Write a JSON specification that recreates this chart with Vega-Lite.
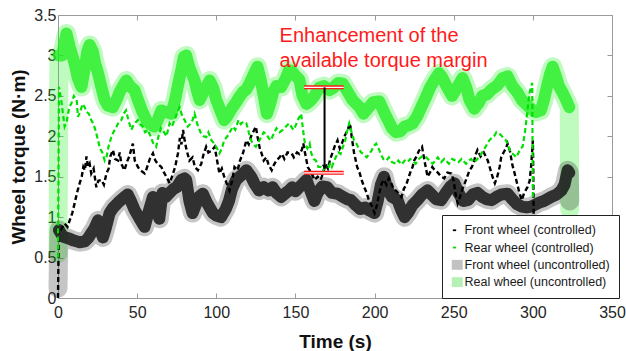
{
  "$schema": "https://vega.github.io/schema/vega-lite/v6.json",
  "width": 554,
  "height": 283,
  "autosize": {"type": "none"},
  "padding": {"left": 58, "top": 15, "right": 14, "bottom": 53},
  "background": "white",
  "config": {
    "font": "Liberation Sans",
    "view": {"stroke": null}
  },
  "datasets": {
    "keys": [{"s":"Front wheel (controlled)"},{"s":"Rear wheel (controlled)"},{"s":"Front wheel (uncontrolled)"},{"s":"Real wheel (uncontrolled)"}],
    "fc": [
      {"t":0,"y":0},{"t":0.3,"y":0.5},{"t":0.6,"y":0.87},{"t":2,"y":0.85},{"t":4.2,"y":0.92},{"t":6,"y":0.88},{"t":7.4,"y":0.96},{"t":9,"y":1.05},{"t":10.5,"y":1.17},{"t":12,"y":1.3},{"t":13.7,"y":1.42},{"t":15,"y":1.5},{"t":16,"y":1.62},{"t":17,"y":1.58},{"t":18,"y":1.75},{"t":19,"y":1.62},{"t":20,"y":1.66},{"t":21,"y":1.54},{"t":22.5,"y":1.6},{"t":24.2,"y":1.37},{"t":25.5,"y":1.45},{"t":27.4,"y":1.46},{"t":29,"y":1.4},{"t":30.6,"y":1.54},{"t":32,"y":1.6},{"t":33,"y":1.75},{"t":34.7,"y":1.83},{"t":36,"y":1.72},{"t":37.9,"y":1.7},{"t":39,"y":1.8},{"t":40,"y":1.66},{"t":42,"y":1.58},{"t":43.5,"y":1.68},{"t":45,"y":1.75},{"t":47.3,"y":1.91},{"t":48.5,"y":1.7},{"t":50.5,"y":1.62},{"t":52,"y":1.58},{"t":54.7,"y":1.54},{"t":56,"y":1.6},{"t":58,"y":1.72},{"t":60,"y":1.79},{"t":61.5,"y":1.7},{"t":63,"y":1.66},{"t":65.3,"y":1.62},{"t":67,"y":1.55},{"t":69,"y":1.48},{"t":70.5,"y":1.42},{"t":72,"y":1.5},{"t":74,"y":1.62},{"t":75.8,"y":1.79},{"t":77,"y":1.98},{"t":78,"y":1.9},{"t":79,"y":2.08},{"t":80,"y":1.95},{"t":81,"y":1.85},{"t":83,"y":1.7},{"t":85,"y":1.74},{"t":86.5,"y":1.62},{"t":88.4,"y":1.58},{"t":90.5,"y":1.66},{"t":92,"y":1.78},{"t":93.6,"y":1.87},{"t":95,"y":1.8},{"t":97,"y":1.82},{"t":99,"y":1.87},{"t":100.5,"y":1.7},{"t":102,"y":1.54},{"t":103.5,"y":1.6},{"t":105,"y":1.5},{"t":106.5,"y":1.42},{"t":108.4,"y":1.33},{"t":110,"y":1.45},{"t":111.5,"y":1.62},{"t":113.5,"y":1.58},{"t":115,"y":1.7},{"t":117,"y":1.8},{"t":119,"y":1.95},{"t":120.5,"y":1.9},{"t":122,"y":2.0},{"t":124,"y":2.08},{"t":125,"y":2.12},{"t":126,"y":2.0},{"t":127.5,"y":1.85},{"t":128.6,"y":1.79},{"t":130,"y":1.7},{"t":131.6,"y":1.74},{"t":133,"y":1.65},{"t":135,"y":1.58},{"t":136.5,"y":1.65},{"t":138,"y":1.7},{"t":140,"y":1.74},{"t":141.5,"y":1.78},{"t":143,"y":1.72},{"t":145,"y":1.8},{"t":147.6,"y":1.79},{"t":149,"y":1.74},{"t":151,"y":1.8},{"t":152.5,"y":1.78},{"t":154,"y":1.83},{"t":155,"y":1.91},{"t":156,"y":1.8},{"t":157.8,"y":1.62},{"t":160,"y":1.55},{"t":162,"y":1.46},{"t":164,"y":1.5},{"t":166,"y":1.46},{"t":167.5,"y":1.55},{"t":169,"y":1.65},{"t":170.5,"y":1.6},{"t":172,"y":1.72},{"t":173.5,"y":1.8},{"t":174.7,"y":1.87},{"t":176.6,"y":1.95},{"t":178,"y":1.85},{"t":179.5,"y":1.92},{"t":181,"y":2.0},{"t":183,"y":2.08},{"t":184.5,"y":2.16},{"t":185.5,"y":2.0},{"t":187,"y":1.8},{"t":189,"y":1.62},{"t":190.5,"y":1.55},{"t":192,"y":1.45},{"t":193.5,"y":1.37},{"t":195,"y":1.3},{"t":196.5,"y":1.2},{"t":198,"y":1.15},{"t":200,"y":1.05},{"t":201.5,"y":1.15},{"t":203,"y":1.3},{"t":204.5,"y":1.42},{"t":206,"y":1.46},{"t":207.5,"y":1.4},{"t":209,"y":1.48},{"t":210.6,"y":1.42},{"t":212,"y":1.35},{"t":214,"y":1.32},{"t":215.5,"y":1.28},{"t":217,"y":1.25},{"t":218.5,"y":1.35},{"t":220,"y":1.4},{"t":221,"y":1.46},{"t":222.5,"y":1.55},{"t":224,"y":1.62},{"t":225,"y":1.7},{"t":226.5,"y":1.75},{"t":228,"y":1.82},{"t":230,"y":1.87},{"t":231.5,"y":1.7},{"t":233.5,"y":1.5},{"t":235,"y":1.55},{"t":236.5,"y":1.62},{"t":238,"y":1.58},{"t":240,"y":1.55},{"t":242,"y":1.5},{"t":244,"y":1.48},{"t":246,"y":1.55},{"t":248.5,"y":1.54},{"t":250,"y":1.45},{"t":251,"y":1.3},{"t":252.5,"y":1.17},{"t":254,"y":1.25},{"t":255.5,"y":1.35},{"t":257,"y":1.42},{"t":258.5,"y":1.5},{"t":260,"y":1.58},{"t":261.5,"y":1.62},{"t":263,"y":1.7},{"t":264,"y":1.78},{"t":265,"y":1.83},{"t":267,"y":1.75},{"t":269,"y":1.8},{"t":271.5,"y":1.7},{"t":273,"y":1.6},{"t":274.5,"y":1.5},{"t":276,"y":1.42},{"t":277.5,"y":1.5},{"t":279,"y":1.62},{"t":280,"y":1.74},{"t":281.5,"y":1.8},{"t":283,"y":1.85},{"t":284,"y":1.91},{"t":285.5,"y":1.82},{"t":287,"y":1.65},{"t":288.5,"y":1.54},{"t":290,"y":1.42},{"t":291.5,"y":1.3},{"t":293,"y":1.21},{"t":294.5,"y":1.3},{"t":296.6,"y":1.37},{"t":298,"y":1.45},{"t":299,"y":1.65},{"t":300,"y":1.95},{"t":300.3,"y":1.5},{"t":300.6,"y":0.8},{"t":301,"y":0}
    ],
    "rc": [
      {"t":0,"y":0.5},{"t":0.3,"y":1.5},{"t":0.6,"y":2.61},{"t":2,"y":2.45},{"t":3,"y":2.3},{"t":4.2,"y":2.12},{"t":5.5,"y":2.18},{"t":7,"y":2.35},{"t":8.5,"y":2.41},{"t":10,"y":2.5},{"t":11.8,"y":2.45},{"t":12.6,"y":2.24},{"t":14,"y":2.3},{"t":15.5,"y":2.4},{"t":16.9,"y":2.36},{"t":18,"y":2.3},{"t":19.5,"y":2.28},{"t":21,"y":2.2},{"t":22.5,"y":2.15},{"t":24,"y":2.05},{"t":25.3,"y":1.95},{"t":26.5,"y":1.85},{"t":28,"y":1.8},{"t":29.5,"y":1.7},{"t":30.6,"y":1.74},{"t":32,"y":1.88},{"t":33.7,"y":1.99},{"t":35,"y":2.05},{"t":37,"y":2.12},{"t":38.5,"y":2.18},{"t":40,"y":2.2},{"t":41.5,"y":2.28},{"t":43,"y":2.32},{"t":44.5,"y":2.2},{"t":46.3,"y":2.08},{"t":48,"y":2.15},{"t":50.5,"y":2.2},{"t":52,"y":2.15},{"t":53.6,"y":2.12},{"t":55,"y":2.05},{"t":56.8,"y":2.08},{"t":58.5,"y":2.0},{"t":60,"y":1.92},{"t":62,"y":1.87},{"t":63.5,"y":2.0},{"t":65,"y":2.1},{"t":67,"y":2.05},{"t":68.5,"y":2.0},{"t":70.5,"y":2.16},{"t":72,"y":2.12},{"t":74,"y":2.22},{"t":75.5,"y":2.3},{"t":76.8,"y":2.36},{"t":78.5,"y":2.25},{"t":80,"y":2.2},{"t":82,"y":2.12},{"t":83.5,"y":2.15},{"t":85,"y":2.2},{"t":86.3,"y":2.28},{"t":88,"y":2.15},{"t":90,"y":2.05},{"t":92,"y":2.0},{"t":93.6,"y":1.99},{"t":95,"y":2.05},{"t":97,"y":1.95},{"t":99,"y":1.9},{"t":100.5,"y":1.85},{"t":102,"y":1.79},{"t":103.5,"y":1.85},{"t":105,"y":1.95},{"t":107,"y":2.0},{"t":108.5,"y":2.05},{"t":110.5,"y":2.12},{"t":112,"y":2.08},{"t":114,"y":2.2},{"t":115.5,"y":2.15},{"t":117,"y":2.18},{"t":119,"y":2.16},{"t":120.5,"y":2.05},{"t":122,"y":1.95},{"t":123.5,"y":1.9},{"t":125,"y":1.87},{"t":126.5,"y":1.92},{"t":128,"y":1.98},{"t":130,"y":2.05},{"t":131.6,"y":2.03},{"t":133,"y":1.98},{"t":134.5,"y":1.95},{"t":136,"y":2.02},{"t":138,"y":2.1},{"t":140,"y":2.05},{"t":142,"y":2.08},{"t":144,"y":2.12},{"t":146,"y":2.16},{"t":148,"y":2.1},{"t":149,"y":2.08},{"t":150.5,"y":2.15},{"t":152,"y":2.22},{"t":153.6,"y":2.28},{"t":155,"y":2.05},{"t":156,"y":1.91},{"t":157.5,"y":1.85},{"t":159,"y":1.91},{"t":160,"y":1.79},{"t":161.5,"y":1.72},{"t":163,"y":1.7},{"t":164.5,"y":1.62},{"t":166,"y":1.62},{"t":167.5,"y":1.58},{"t":169,"y":1.62},{"t":170.5,"y":1.6},{"t":172,"y":1.66},{"t":173,"y":1.62},{"t":174.5,"y":1.7},{"t":175.5,"y":1.74},{"t":177,"y":1.8},{"t":178.5,"y":1.78},{"t":180,"y":1.87},{"t":181.5,"y":1.95},{"t":182.5,"y":2.05},{"t":184,"y":2.16},{"t":185.5,"y":2.05},{"t":187,"y":1.95},{"t":188.5,"y":1.91},{"t":190,"y":1.85},{"t":191.5,"y":1.8},{"t":193,"y":1.78},{"t":195,"y":1.74},{"t":196.5,"y":1.78},{"t":198,"y":1.82},{"t":199.5,"y":1.88},{"t":201,"y":1.91},{"t":202.5,"y":1.85},{"t":204,"y":1.78},{"t":205.5,"y":1.72},{"t":207.5,"y":1.7},{"t":209,"y":1.74},{"t":211,"y":1.68},{"t":213.6,"y":1.66},{"t":215,"y":1.7},{"t":217,"y":1.65},{"t":219,"y":1.7},{"t":221,"y":1.68},{"t":222.5,"y":1.72},{"t":224,"y":1.7},{"t":226,"y":1.66},{"t":228,"y":1.72},{"t":230,"y":1.75},{"t":232.6,"y":1.74},{"t":234.5,"y":1.7},{"t":236.7,"y":1.66},{"t":238.5,"y":1.7},{"t":240,"y":1.74},{"t":242,"y":1.68},{"t":244,"y":1.72},{"t":245,"y":1.7},{"t":247,"y":1.66},{"t":249,"y":1.72},{"t":251,"y":1.7},{"t":253,"y":1.68},{"t":255,"y":1.72},{"t":257.8,"y":1.66},{"t":259.5,"y":1.7},{"t":261,"y":1.72},{"t":262.5,"y":1.68},{"t":264,"y":1.7},{"t":266,"y":1.74},{"t":268,"y":1.8},{"t":269.5,"y":1.85},{"t":271,"y":1.9},{"t":272.5,"y":1.95},{"t":274,"y":1.98},{"t":275.5,"y":2.0},{"t":277,"y":2.05},{"t":279,"y":2.03},{"t":280.5,"y":2.0},{"t":281.5,"y":1.98},{"t":283,"y":1.95},{"t":284.5,"y":1.88},{"t":286,"y":1.8},{"t":287.5,"y":1.78},{"t":289.6,"y":1.74},{"t":291,"y":1.8},{"t":292.5,"y":1.85},{"t":293.5,"y":1.87},{"t":295,"y":2.05},{"t":296.5,"y":2.3},{"t":297.8,"y":2.53},{"t":299,"y":2.62},{"t":299.6,"y":2.66},{"t":299.8,"y":1.9},{"t":300,"y":1.25}
    ],
    "fu": [
      {"t":0,"y":0.12},{"t":0.3,"y":0.5},{"t":0.6,"y":0.84},{"t":3,"y":0.76},{"t":6.3,"y":0.74},{"t":10,"y":0.71},{"t":13.7,"y":0.69},{"t":17,"y":0.7},{"t":19,"y":0.74},{"t":21,"y":0.8},{"t":23,"y":0.86},{"t":25.3,"y":0.96},{"t":26.5,"y":0.85},{"t":28.4,"y":0.75},{"t":30,"y":0.85},{"t":32.6,"y":1.05},{"t":35,"y":1.12},{"t":38,"y":1.18},{"t":42,"y":1.25},{"t":44,"y":1.28},{"t":46,"y":1.2},{"t":48.4,"y":1.09},{"t":51,"y":1.0},{"t":54.7,"y":0.88},{"t":57,"y":1.05},{"t":60,"y":1.25},{"t":62,"y":1.15},{"t":64,"y":0.98},{"t":66,"y":1.3},{"t":68,"y":1.25},{"t":70.5,"y":1.3},{"t":73,"y":1.35},{"t":75,"y":1.37},{"t":77.9,"y":1.46},{"t":80,"y":1.48},{"t":81,"y":1.46},{"t":83,"y":1.2},{"t":85,"y":1.05},{"t":87,"y":1.15},{"t":89,"y":1.25},{"t":91.5,"y":1.29},{"t":94,"y":1.18},{"t":97.8,"y":1.05},{"t":100,"y":1.02},{"t":103,"y":1.0},{"t":106,"y":1.1},{"t":108,"y":1.2},{"t":110,"y":1.35},{"t":112.5,"y":1.46},{"t":116,"y":1.52},{"t":119,"y":1.58},{"t":122,"y":1.5},{"t":124,"y":1.42},{"t":127,"y":1.33},{"t":130,"y":1.37},{"t":133,"y":1.33},{"t":135.6,"y":1.37},{"t":138,"y":1.3},{"t":141,"y":1.25},{"t":144,"y":1.3},{"t":146,"y":1.33},{"t":148,"y":1.37},{"t":150,"y":1.32},{"t":153,"y":1.38},{"t":157,"y":1.46},{"t":160,"y":1.3},{"t":162,"y":1.2},{"t":164,"y":1.3},{"t":167,"y":1.38},{"t":170,"y":1.37},{"t":173,"y":1.3},{"t":176.6,"y":1.29},{"t":180,"y":1.25},{"t":183,"y":1.22},{"t":185,"y":1.21},{"t":188,"y":1.15},{"t":191,"y":1.1},{"t":194,"y":1.12},{"t":197,"y":1.08},{"t":200,"y":1.05},{"t":202,"y":1.2},{"t":204,"y":1.4},{"t":206,"y":1.5},{"t":208,"y":1.35},{"t":211,"y":1.25},{"t":214.5,"y":1.21},{"t":217,"y":1.08},{"t":219,"y":1.0},{"t":221,"y":1.05},{"t":224,"y":1.15},{"t":227,"y":1.21},{"t":230,"y":1.28},{"t":233.5,"y":1.33},{"t":236,"y":1.28},{"t":239,"y":1.22},{"t":242,"y":1.21},{"t":245,"y":1.3},{"t":248,"y":1.38},{"t":250.5,"y":1.42},{"t":253,"y":1.3},{"t":256,"y":1.2},{"t":259,"y":1.21},{"t":262,"y":1.28},{"t":265,"y":1.3},{"t":268,"y":1.25},{"t":271,"y":1.22},{"t":274,"y":1.21},{"t":277,"y":1.25},{"t":280,"y":1.28},{"t":284,"y":1.29},{"t":287,"y":1.22},{"t":290,"y":1.16},{"t":293,"y":1.13},{"t":296,"y":1.12},{"t":299,"y":1.13},{"t":301,"y":1.15},{"t":304,"y":1.18},{"t":307,"y":1.2},{"t":311.5,"y":1.25},{"t":315,"y":1.28},{"t":318,"y":1.33},{"t":320,"y":1.4},{"t":322,"y":1.58},{"t":323,"y":1.55},{"t":323.3,"y":1.2}
    ],
    "ru": [
      {"t":0,"y":0.55},{"t":0.3,"y":1.8},{"t":0.6,"y":3.0},{"t":2.5,"y":3.0},{"t":5.3,"y":3.27},{"t":7.5,"y":3.1},{"t":10.5,"y":2.9},{"t":12.5,"y":2.72},{"t":14.8,"y":2.61},{"t":17,"y":2.85},{"t":18.5,"y":3.05},{"t":20,"y":3.13},{"t":22,"y":3.05},{"t":23.5,"y":2.9},{"t":25.3,"y":2.78},{"t":27.5,"y":2.6},{"t":29.5,"y":2.45},{"t":31.5,"y":2.38},{"t":34.7,"y":2.36},{"t":37,"y":2.45},{"t":39,"y":2.55},{"t":41,"y":2.62},{"t":43.2,"y":2.69},{"t":45.5,"y":2.62},{"t":48.4,"y":2.57},{"t":50.5,"y":2.45},{"t":53,"y":2.32},{"t":55.8,"y":2.2},{"t":58,"y":2.15},{"t":61,"y":2.12},{"t":63,"y":2.2},{"t":65.3,"y":2.32},{"t":68,"y":2.3},{"t":71.6,"y":2.28},{"t":74,"y":2.45},{"t":76,"y":2.65},{"t":77.9,"y":2.82},{"t":79.5,"y":2.98},{"t":81,"y":3.0},{"t":83,"y":2.85},{"t":86.3,"y":2.69},{"t":88,"y":2.55},{"t":89.5,"y":2.45},{"t":92,"y":2.55},{"t":95.8,"y":2.69},{"t":98,"y":2.6},{"t":100,"y":2.45},{"t":103,"y":2.3},{"t":105,"y":2.2},{"t":107,"y":2.25},{"t":110,"y":2.35},{"t":112.5,"y":2.42},{"t":114.7,"y":2.49},{"t":117,"y":2.55},{"t":119,"y":2.58},{"t":121,"y":2.65},{"t":124,"y":2.78},{"t":126,"y":2.86},{"t":128,"y":2.7},{"t":130,"y":2.5},{"t":132,"y":2.28},{"t":134,"y":2.4},{"t":136,"y":2.55},{"t":138,"y":2.62},{"t":141,"y":2.61},{"t":144,"y":2.72},{"t":146,"y":2.82},{"t":148,"y":2.8},{"t":150,"y":2.75},{"t":152.5,"y":2.7},{"t":154.5,"y":2.5},{"t":157,"y":2.4},{"t":160,"y":2.45},{"t":162,"y":2.5},{"t":165,"y":2.6},{"t":168,"y":2.62},{"t":171.5,"y":2.57},{"t":174,"y":2.6},{"t":177,"y":2.66},{"t":180,"y":2.65},{"t":183,"y":2.55},{"t":186,"y":2.45},{"t":190.5,"y":2.36},{"t":193,"y":2.28},{"t":196,"y":2.35},{"t":199,"y":2.42},{"t":203,"y":2.43},{"t":206,"y":2.3},{"t":209,"y":2.18},{"t":211,"y":2.1},{"t":213.6,"y":2.05},{"t":216,"y":2.06},{"t":219,"y":2.12},{"t":222,"y":2.14},{"t":224,"y":2.16},{"t":227,"y":2.25},{"t":230,"y":2.38},{"t":232.6,"y":2.49},{"t":235,"y":2.6},{"t":238,"y":2.7},{"t":240.8,"y":2.78},{"t":243,"y":2.72},{"t":246,"y":2.6},{"t":249,"y":2.5},{"t":252,"y":2.6},{"t":255.6,"y":2.72},{"t":258,"y":2.6},{"t":260,"y":2.45},{"t":263,"y":2.34},{"t":266,"y":2.42},{"t":268,"y":2.5},{"t":271,"y":2.52},{"t":274,"y":2.58},{"t":277.6,"y":2.63},{"t":281,"y":2.72},{"t":284,"y":2.74},{"t":287,"y":2.62},{"t":290,"y":2.55},{"t":293,"y":2.45},{"t":296.6,"y":2.38},{"t":300,"y":2.32},{"t":302,"y":2.3},{"t":305,"y":2.32},{"t":307,"y":2.45},{"t":309,"y":2.62},{"t":311,"y":2.78},{"t":312.5,"y":2.86},{"t":314.5,"y":2.75},{"t":316.5,"y":2.62},{"t":319,"y":2.53},{"t":321,"y":2.45},{"t":323,"y":2.36},{"t":323.3,"y":1.1}
    ],
    "bars": [{"t1":155.5,"t2":180.5,"y":2.605},{"t1":155.5,"t2":180.5,"y":1.548}],
    "arrow": [{"t":168.4,"y1":2.605,"y2":1.6}],
    "tip": [{"t":168.4,"y":1.62}],
    "note": [{"t":140,"y":3.166,"label":"Enhancement of the\navailable torque margin"}]
  },
  "layer": [
    {
      "data": {"name": "ru"},
      "mark": {"type": "line", "color": "#1aee1a", "strokeWidth": 19, "opacity": 0.28, "strokeJoin": "round", "strokeCap": "round"},
      "encoding": {
        "x": {"field": "t", "type": "quantitative", "scale": {"domain": [0, 350], "nice": false},
          "axis": {"orient": "bottom", "values": [0,50,100,150,200,250,300,350], "title": "Time (s)", "titleFontSize": 19, "titleFontWeight": "bold", "titleColor": "#111", "titleY": 49, "titleBaseline": "alphabetic",
            "labelFontSize": 16, "labelColor": "#262626", "labelPadding": 11, "labelFlush": false, "tickSize": -5, "tickColor": "#9a9a9a", "domainColor": "#9a9a9a", "grid": false}},
        "y": {"field": "y", "type": "quantitative", "scale": {"domain": [0, 3.5], "nice": false},
          "axis": {"orient": "left", "values": [0,0.5,1,1.5,2,2.5,3,3.5], "format": "~g", "title": "Wheel torque (N·m)", "titleFontSize": 19, "titleFontWeight": "bold", "titleColor": "#111", "titleX": -34, "titleBaseline": "alphabetic",
            "labelFontSize": 16, "labelColor": "#262626", "labelPadding": 7, "labelFlush": false, "tickSize": -5, "tickColor": "#9a9a9a", "domainColor": "#9a9a9a", "grid": false}}
      }
    },
    {
      "data": {"name": "ru"},
      "transform": [{"filter": "datum.t >= 0.6 && datum.t <= 323"}],
      "mark": {"type": "line", "color": "#1aee1a", "strokeWidth": 12, "opacity": 0.76, "strokeJoin": "round", "strokeCap": "round"},
      "encoding": {
        "x": {"field": "t", "type": "quantitative", "scale": {"domain": [0, 350], "nice": false},
          "axis": {"orient": "top", "values": [0,50,100,150,200,250,300,350], "labels": false, "title": null, "tickSize": -5, "tickColor": "#9a9a9a", "domainColor": "#9a9a9a", "grid": false}},
        "y": {"field": "y", "type": "quantitative", "scale": {"domain": [0, 3.5], "nice": false},
          "axis": {"orient": "right", "values": [0,0.5,1,1.5,2,2.5,3,3.5], "labels": false, "title": null, "tickSize": -5, "tickColor": "#9a9a9a", "domainColor": "#9a9a9a", "grid": false}}
      }
    },
    {
      "data": {"name": "fu"},
      "mark": {"type": "line", "color": "#161616", "strokeWidth": 19, "opacity": 0.25, "strokeJoin": "round", "strokeCap": "round"},
      "encoding": {
        "x": {"field": "t", "type": "quantitative", "axis": null},
        "y": {"field": "y", "type": "quantitative", "axis": null}
      }
    },
    {
      "data": {"name": "fu"},
      "transform": [{"filter": "datum.t >= 0.6 && datum.t <= 323"}],
      "mark": {"type": "line", "color": "#161616", "strokeWidth": 12, "opacity": 0.85, "strokeJoin": "round", "strokeCap": "round"},
      "encoding": {
        "x": {"field": "t", "type": "quantitative", "axis": null},
        "y": {"field": "y", "type": "quantitative", "axis": null}
      }
    },
    {
      "data": {"name": "fc"},
      "mark": {"type": "line", "color": "#000000", "strokeWidth": 2.4, "strokeDash": [5, 3]},
      "encoding": {
        "x": {"field": "t", "type": "quantitative", "axis": null},
        "y": {"field": "y", "type": "quantitative", "axis": null}
      }
    },
    {
      "data": {"name": "rc"},
      "mark": {"type": "line", "color": "#00e000", "strokeWidth": 2.2, "strokeDash": [5, 3]},
      "encoding": {
        "x": {"field": "t", "type": "quantitative", "axis": null},
        "y": {"field": "y", "type": "quantitative", "axis": null}
      }
    },
    {
      "data": {"name": "bars"},
      "mark": {"type": "rule", "color": "#ff1a1a", "strokeWidth": 4},
      "encoding": {
        "x": {"field": "t1", "type": "quantitative", "axis": null},
        "x2": {"field": "t2"},
        "y": {"field": "y", "type": "quantitative", "axis": null}
      }
    },
    {
      "data": {"name": "bars"},
      "mark": {"type": "rule", "color": "#ffffff", "strokeWidth": 1.2},
      "encoding": {
        "x": {"field": "t1", "type": "quantitative", "axis": null},
        "x2": {"field": "t2"},
        "y": {"field": "y", "type": "quantitative", "axis": null}
      }
    },
    {
      "data": {"name": "arrow"},
      "mark": {"type": "rule", "color": "#000000", "strokeWidth": 2},
      "encoding": {
        "x": {"field": "t", "type": "quantitative", "axis": null},
        "y": {"field": "y1", "type": "quantitative", "axis": null},
        "y2": {"field": "y2"}
      }
    },
    {
      "data": {"name": "tip"},
      "mark": {"type": "point", "shape": "triangle-down", "filled": true, "color": "#000000", "size": 30, "opacity": 1},
      "encoding": {
        "x": {"field": "t", "type": "quantitative", "axis": null},
        "y": {"field": "y", "type": "quantitative", "axis": null}
      }
    },
    {
      "data": {"name": "note"},
      "mark": {"type": "text", "align": "left", "baseline": "alphabetic", "fontSize": 20, "color": "#ff1a1a", "lineBreak": "\n", "lineHeight": 25, "font": "Liberation Sans"},
      "encoding": {
        "x": {"field": "t", "type": "quantitative", "axis": null},
        "y": {"field": "y", "type": "quantitative", "axis": null},
        "text": {"field": "label"}
      }
    },
    {
      "data": {"name": "keys"},
      "transform": [{"filter": "false"}],
      "mark": {"type": "point", "filled": true, "size": 121, "opacity": 1},
      "encoding": {
        "color": {"field": "s", "type": "nominal",
          "scale": {"domain": ["Front wheel (controlled)", "Rear wheel (controlled)", "Front wheel (uncontrolled)", "Real wheel (uncontrolled)"], "range": ["#000000", "#00dd00", "#c2c2c2", "#b5f0b5"]},
          "legend": {"title": null, "orient": "none", "legendX": 384, "legendY": 200, "padding": 9, "symbolSize": 121, "symbolOpacity": 1, "symbolStrokeWidth": 0, "labelFont": "Liberation Sans", "labelFontSize": 12.5, "labelColor": "#1a1a1a", "labelOffset": 1, "rowPadding": 4.3, "strokeColor": "#222222", "fillColor": "white"}},
        "shape": {"field": "s", "type": "nominal",
          "scale": {"domain": ["Front wheel (controlled)", "Rear wheel (controlled)", "Front wheel (uncontrolled)", "Real wheel (uncontrolled)"], "range": ["M-0.8,-0.16H-0.2V0.16H-0.8Z", "M-0.8,-0.16H-0.2V0.16H-0.8Z", "M-1,-0.9H1V0.9H-1Z", "M-1,-0.9H1V0.9H-1Z"]},
          "legend": {"title": null, "orient": "none", "legendX": 384, "legendY": 200, "padding": 9, "symbolSize": 121, "symbolOpacity": 1, "symbolStrokeWidth": 0, "labelFont": "Liberation Sans", "labelFontSize": 12.5, "labelColor": "#1a1a1a", "labelOffset": 1, "rowPadding": 4.3, "strokeColor": "#222222", "fillColor": "white"}}
      }
    }
  ]
}
